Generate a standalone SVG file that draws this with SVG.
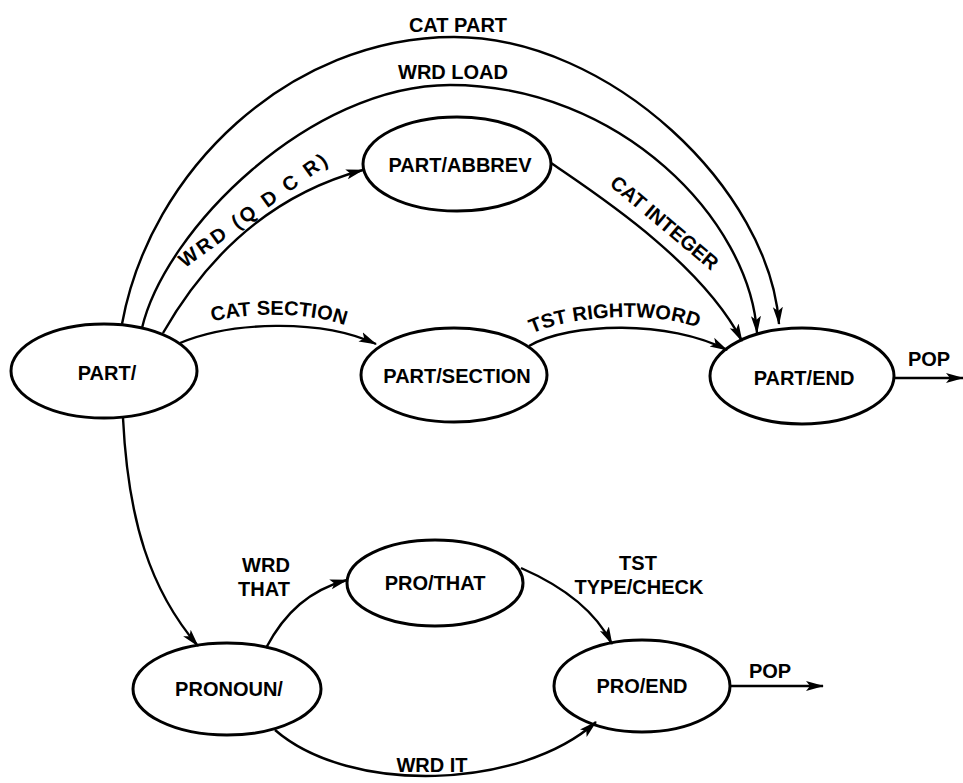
<svg xmlns="http://www.w3.org/2000/svg" width="963" height="783" viewBox="0 0 963 783">
<style>
.n{fill:none;stroke:#000;stroke-width:3}
.e{fill:none;stroke:#000;stroke-width:2.4}
.t{font-family:"Liberation Sans",Arial,sans-serif;font-size:20px;font-weight:bold;fill:#000;text-anchor:middle}
</style>
<defs>
<marker id="a" markerUnits="userSpaceOnUse" markerWidth="18" markerHeight="12" viewBox="0 0 18 12" refX="17" refY="6" orient="auto">
<path d="M0,1 L18,6 L0,11 L4,6 Z" fill="#000"/>
</marker>
<path id="pSec" d="M205,324 C 240,312 310,310 352,328"/>
<path id="pRw" d="M527,336 C 570,314 660,310 703,330"/>
</defs>
<rect width="963" height="783" fill="#fff"/>
<g id="connectors">
<path class="e" d="M122,324 C 150,170 290,37 454,37 C 610,37 770,190 779,324" marker-end="url(#a)"/>
<path class="e" d="M142,328 C 165,230 310,85 450,85 C 620,85 750,220 757,333" marker-end="url(#a)"/>
<path class="e" d="M163,333 Q 237,204 363,170" marker-end="url(#a)"/>
<path class="e" d="M551,163 C 590,190 700,260 742,341" marker-end="url(#a)"/>
<path class="e" d="M180,343 C 230,322 320,318 376,344" marker-end="url(#a)"/>
<path class="e" d="M529,346 C 570,322 670,320 727,350" marker-end="url(#a)"/>
<path class="e" d="M123,418 C 128,520 150,590 198,646" marker-end="url(#a)"/>
<path class="e" d="M266,648 C 285,612 310,590 347,580" marker-end="url(#a)"/>
<path class="e" d="M521,568 C 560,585 595,610 612,644" marker-end="url(#a)"/>
<path class="e" d="M275,730 C 350,795 520,790 596,722" marker-end="url(#a)"/>
<path class="e" d="M894,378 L963,378" marker-end="url(#a)"/>
<path class="e" d="M730,686 L823,686" marker-end="url(#a)"/>
<text class="t" x="458" y="32">CAT PART</text>
<text class="t" x="453" y="79">WRD LOAD</text>
<text class="t" transform="translate(258,215) rotate(-36)" letter-spacing="3">WRD (Q D C R)</text>
<text class="t" transform="translate(660,228) rotate(40)">CAT INTEGER</text>
<text class="t"><textPath href="#pSec" startOffset="50%">CAT SECTION</textPath></text>
<text class="t"><textPath href="#pRw" startOffset="50%">TST RIGHTWORD</textPath></text>
<text class="t" x="929" y="366">POP</text>
<text class="t" x="770" y="678">POP</text>
<text class="t" x="266" y="572">WRD</text>
<text class="t" x="264" y="596">THAT</text>
<text class="t" x="638" y="570">TST</text>
<text class="t" x="639" y="594">TYPE/CHECK</text>
<text class="t" x="432" y="772">WRD IT</text>
</g>
<g id="part"><ellipse class="n" cx="104" cy="371" rx="93" ry="47"/><text class="t" x="107" y="380">PART/</text></g>
<g id="part-abbrev"><ellipse class="n" cx="457" cy="164" rx="94" ry="47"/><text class="t" x="460" y="172">PART/ABBREV</text></g>
<g id="part-section"><ellipse class="n" cx="454" cy="375" rx="93" ry="47"/><text class="t" x="457" y="383">PART/SECTION</text></g>
<g id="part-end"><ellipse class="n" cx="802" cy="376" rx="92" ry="48"/><text class="t" x="804" y="385">PART/END</text></g>
<g id="pro-that"><ellipse class="n" cx="435" cy="583" rx="88" ry="43"/><text class="t" x="435" y="590">PRO/THAT</text></g>
<g id="pronoun"><ellipse class="n" cx="227" cy="689" rx="94" ry="46"/><text class="t" x="229" y="696">PRONOUN/</text></g>
<g id="pro-end"><ellipse class="n" cx="642" cy="686" rx="88" ry="46"/><text class="t" x="642" y="693">PRO/END</text></g>
</svg>
